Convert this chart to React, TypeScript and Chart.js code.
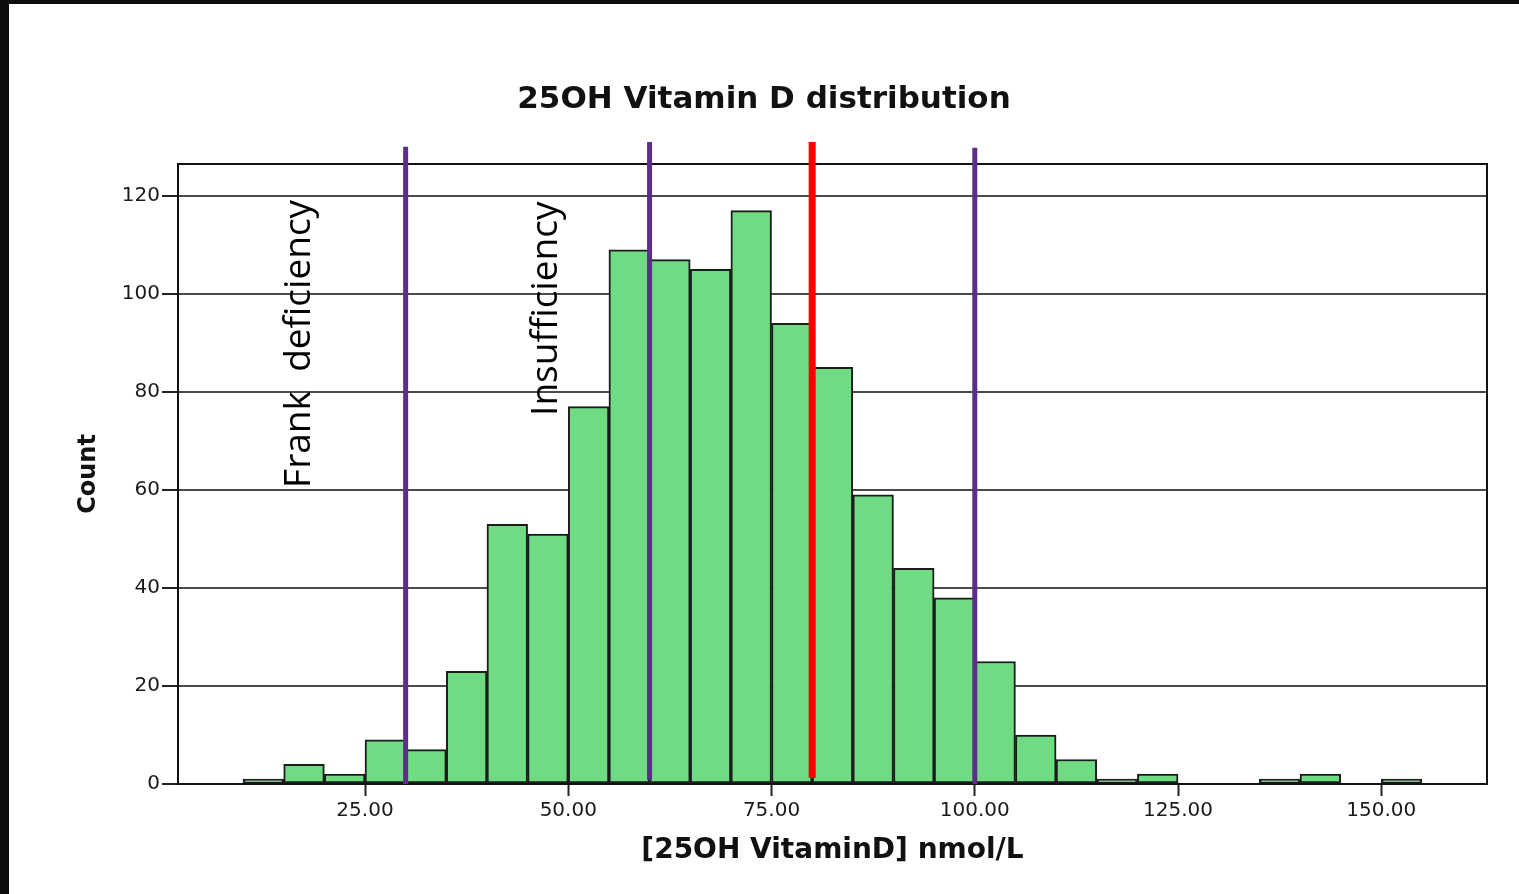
import React, { useEffect, useRef } from 'react';
import { Chart, registerables } from 'chart.js';

Chart.register(...registerables);

// ---- data ----
const binWidth = 5;
const binStarts = [10, 15, 20, 25, 30, 35, 40, 45, 50, 55, 60, 65, 70, 75, 80, 85, 90, 95, 100, 105, 110, 115, 120, 125, 130, 135, 140, 145, 150];
const counts = [1, 4, 2, 9, 7, 23, 53, 51, 77, 109, 107, 105, 117, 94, 85, 59, 44, 38, 25, 10, 5, 1, 2, 0, 0, 1, 2, 0, 1];
const xTicks = [25, 50, 75, 100, 125, 150];
const yTicks = [0, 20, 40, 60, 80, 100, 120];

const chartTitle = '25OH Vitamin D distribution';
const xTitle = '[25OH VitaminD] nmol/L';
const yTitle = 'Count';

// threshold lines (data coordinates)
const thresholdValues = [30, 60, 80, 100];
const thresholdColors = ['#5c2d89', '#5c2d89', '#ff0000', '#5c2d89'];
const thresholdTop = [130, 131, 131, 129.8];
const thresholdBottom = [0, 0.8, 1.2, 0];

// zone labels (data coordinates of text start / baseline)
const zoneLabels = ['Frank  deficiency', 'Insufficiency'];
const zoneLabelX = [18.2, 48.6];
const zoneLabelY = [60.4, 75.1];

const overlayPlugin = {
  id: 'overlay',
  afterDatasetsDraw(chart: any) {
    const { ctx, chartArea, scales } = chart;
    const x = scales.x;
    const y = scales.y;
    ctx.save();
    // frame
    ctx.strokeStyle = '#111';
    ctx.lineWidth = 2;
    ctx.strokeRect(chartArea.left, chartArea.top, chartArea.right - chartArea.left, chartArea.bottom - chartArea.top);
    // threshold lines
    thresholdValues.forEach((v, i) => {
      const px = x.getPixelForValue(v);
      ctx.beginPath();
      ctx.strokeStyle = thresholdColors[i];
      ctx.lineWidth = thresholdColors[i] === '#ff0000' ? 7 : 5;
      ctx.lineCap = 'butt';
      ctx.moveTo(px, y.getPixelForValue(thresholdTop[i]));
      ctx.lineTo(px, y.getPixelForValue(thresholdBottom[i]));
      ctx.stroke();
    });
    // zone labels
    zoneLabels.forEach((t, i) => {
      ctx.save();
      ctx.translate(x.getPixelForValue(zoneLabelX[i]), y.getPixelForValue(zoneLabelY[i]));
      ctx.rotate(-Math.PI / 2);
      ctx.font = '37px "Open Sans"';
      ctx.textAlign = 'left';
      ctx.textBaseline = 'alphabetic';
      ctx.fillStyle = '#000';
      ctx.fillText(t, 0, 0);
      ctx.restore();
    });
    ctx.restore();
  },
};

export default function App() {
  const ref = useRef<HTMLCanvasElement>(null);

  useEffect(() => {
    document.body.style.margin = '0';
    const tickFont = { family: '"DejaVu Sans"', size: 20 };
    const chart = new Chart(ref.current as HTMLCanvasElement, {
      type: 'bar',
      data: {
        datasets: [
          {
            label: yTitle,
            data: binStarts.map((s, i) => ({ x: s + binWidth / 2, y: counts[i] })),
            backgroundColor: '#6fdc84',
            borderColor: '#1c1c1c',
            borderWidth: 2,
            borderSkipped: false,
            barPercentage: 1,
            categoryPercentage: 1,
          } as any,
        ],
      },
      options: {
        responsive: false,
        animation: false,
        layout: { padding: { left: 0, right: 0, top: 0, bottom: 0 } },
        plugins: {
          legend: { display: false },
          tooltip: { enabled: false },
          title: {
            display: true,
            text: chartTitle,
            color: '#111',
            font: { family: '"DejaVu Sans"', size: 31, weight: 'bold' },
            padding: { top: 77, bottom: 45.8 },
          },
        },
        scales: {
          x: {
            type: 'linear',
            min: 2,
            max: 163,
            offset: false,
            afterBuildTicks: (s: any) => {
              s.ticks = xTicks.map((v) => ({ value: v }));
            },
            afterFit: (s: any) => {
              s.height = 110;
            },
            ticks: {
              autoSkip: false,
              maxRotation: 0,
              padding: 3,
              color: '#1a1a1a',
              font: tickFont,
              callback: (v: any) => Number(v).toFixed(2),
            },
            grid: {
              offset: false,
              drawOnChartArea: false,
              drawTicks: true,
              tickLength: 12,
              tickColor: '#222',
              tickWidth: 2,
            },
            border: { display: true, color: '#111', width: 2 },
            title: {
              display: true,
              text: xTitle,
              color: '#111',
              font: { family: '"DejaVu Sans"', size: 28, weight: 'bold' },
              padding: { top: 0, bottom: 26 },
            },
          },
          y: {
            type: 'linear',
            min: 0,
            max: 126.5,
            afterBuildTicks: (s: any) => {
              s.ticks = yTicks.map((v) => ({ value: v }));
            },
            afterFit: (s: any) => {
              s.width = 169;
            },
            ticks: {
              padding: 2,
              color: '#1a1a1a',
              font: tickFont,
            },
            grid: {
              color: '#4a4a4a',
              lineWidth: 2,
              drawTicks: true,
              tickLength: 16,
              tickColor: '#222',
              tickWidth: 2,
            },
            border: { display: true, color: '#111', width: 2 },
            title: {
              display: true,
              text: yTitle,
              color: '#111',
              font: { family: '"DejaVu Sans"', size: 24, weight: 'bold' },
              padding: { top: 65, bottom: 0 },
            },
          },
          rightGap: {
            type: 'linear',
            position: 'right',
            display: true,
            afterFit: (s: any) => {
              s.width = 32;
            },
            ticks: { display: false },
            grid: { display: false, drawTicks: false },
            border: { display: false },
            title: { display: false },
          },
        },
      } as any,
      plugins: [overlayPlugin],
    });
    return () => chart.destroy();
  }, []);

  return (
    <div style={{ position: 'relative', width: 1519, height: 894, background: '#0c0c0c', overflow: 'hidden' }}>
      <div style={{ position: 'absolute', left: 9, top: 4, width: 1510, height: 890, background: '#fff' }}>
        <canvas ref={ref} width={1510} height={890} style={{ display: 'block', width: 1510, height: 890 }} />
      </div>
    </div>
  );
}
